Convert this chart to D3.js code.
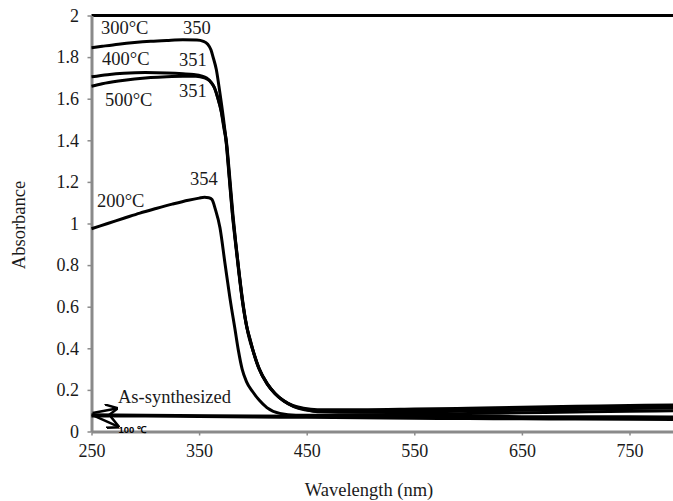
<!DOCTYPE html>
<html>
<head>
<meta charset="utf-8">
<script src="https://d3js.org/d3.v7.min.js"></script>
<style>
  body { margin: 0; background: #fff; }
</style>
</head>
<body>
<svg id="vis"></svg>

<script>
  // absorbance spectra, [wavelength nm, absorbance]
  var asSynth = [[250,0.075],[300,0.074],[350,0.072],[400,0.070],[450,0.068],[500,0.066],[550,0.064],
      [600,0.062],[650,0.061],[700,0.060],[800,0.058]];

  var c100 = [[250,0.080],[300,0.078],[400,0.075],[500,0.073],[600,0.072],[700,0.071],[800,0.070]];

  var c200 = [[250,0.975],[265,1.0],[280,1.025],[295,1.05],[310,1.072],[325,1.093],[340,1.112],[350,1.122],
      [355,1.126],[359,1.124],[362,1.115],[365,1.07],[369.4,0.98],[374,0.81],[378.7,0.64],[383.4,0.49],
      [386.5,0.39],[390,0.30],[394,0.24],[400,0.19],[406,0.15],[413,0.115],[425,0.087],[440,0.078],
      [460,0.078],[500,0.080],[550,0.083],[600,0.086],[650,0.090],[700,0.094],[750,0.097],[800,0.100]];

  var c300 = [[250,1.845],[260,1.852],[275,1.862],[290,1.870],[305,1.876],[320,1.880],[335,1.883],[348,1.882],
      [354,1.876],[358,1.862],[361,1.835],[363,1.80],[366,1.74],[369,1.64],[372.5,1.51],[375,1.40],[378,1.22],
      [381,1.04],[383.5,0.92],[387,0.76],[391,0.60],[394,0.51],[397,0.44],[400,0.39],[405,0.31],[413,0.23],
      [420,0.185],[428,0.15],[437,0.125],[447,0.112],[460,0.105],[500,0.105],[550,0.108],[600,0.112],
      [650,0.117],[700,0.121],[750,0.125],[800,0.128]];

  var c400 = [[250,1.705],[265,1.715],[280,1.722],[300,1.726],[320,1.724],[335,1.720],[345,1.716],[352,1.710],
      [357,1.70],[361,1.68],[364.5,1.65],[367,1.61],[371,1.53],[373,1.47],[375.5,1.39],[378.5,1.22],
      [381.5,1.04],[384,0.91],[387.5,0.75],[391,0.61],[394.5,0.50],[398,0.43],[401,0.375],[406,0.30],
      [414,0.225],[421,0.18],[429,0.145],[438,0.12],[448,0.105],[460,0.098],[500,0.097],[550,0.100],
      [600,0.104],[650,0.108],[700,0.112],[750,0.116],[800,0.120]];

  var c500 = [[250,1.66],[260,1.672],[275,1.685],[290,1.695],[305,1.702],[320,1.706],[335,1.708],[347,1.708],
      [355,1.70],[360,1.685],[364,1.655],[367,1.61],[370.5,1.54],[373,1.46],[375.5,1.38],[378,1.23],
      [381,1.05],[383.5,0.93],[387,0.77],[390.5,0.62],[394,0.51],[397.5,0.44],[400.5,0.38],[405.5,0.305],
      [413.5,0.228],[420.5,0.183],[428.5,0.148],[437.5,0.122],[447.5,0.108],[460,0.095],[500,0.092],
      [550,0.094],[600,0.098],[650,0.102],[700,0.106],[750,0.110],[800,0.114]];

  var series = [asSynth, c100, c200, c300, c400, c500];

  var xTicks = [250, 350, 450, 550, 650, 750];
  var yTicks = [0, 0.2, 0.4, 0.6, 0.8, 1, 1.2, 1.4, 1.6, 1.8, 2];

  // labels: [wavelength, absorbance, text]
  var labels = [[258.8,1.913,'300°C'], [335,1.913,'350'], [259.8,1.76,'400°C'], [331.3,1.755,'351'],
      [262.5,1.567,'500°C'], [331.3,1.606,'351'], [255,1.077,'200°C'], [341.5,1.183,'354'],
      [274.6,0.135,'As-synthesized']];

  // arrows from the curve start to the two low labels: [x1, y1, x2, y2]
  var arrows = [[251,0.089,273.4,0.111], [251,0.079,274.9,0.023]];

  var serif = 'Liberation Serif, Times New Roman, serif';
  var width = 673, height = 501;

  var svg = d3.select('#vis')
      .attr('width', width)
      .attr('height', height);

  var xScale = d3.scaleLinear()
      .domain([250, 800])
      .range([91.5, 683.3]);

  var yScale = d3.scaleLinear()
      .domain([0, 2])
      .range([431.5, 15.5]);

  var axisColor = '#8a8a8a';

  // top border
  svg.append('line')
      .attr('x1', xScale(250))
      .attr('x2', width)
      .attr('y1', yScale(2))
      .attr('y2', yScale(2))
      .attr('stroke', 'black')
      .attr('stroke-width', 3);

  var xAxis = svg.append('g')
      .attr('transform', 'translate(0,' + yScale(0) + ')')
      .call(d3.axisBottom(xScale).tickValues(xTicks).tickSize(4).tickSizeOuter(0).tickPadding(8.7));

  var yAxis = svg.append('g')
      .attr('transform', 'translate(' + xScale(250) + ',0)')
      .call(d3.axisLeft(yScale).tickValues(yTicks).tickSize(4).tickSizeOuter(0).tickPadding(8.5)
          .tickFormat(function(d) {return d3.format('~g')(d);}));

  [xAxis, yAxis].forEach(function(g) {
      g.attr('font-family', serif).attr('font-size', 18);
      g.select('.domain').attr('stroke', axisColor).attr('stroke-width', 3);
      g.selectAll('.tick line').attr('stroke', axisColor).attr('stroke-width', 1.5);
      g.selectAll('.tick text').attr('fill', '#1a1a1a');
  });

  var line = d3.line()
      .x(function(d) {return xScale(d[0]);})
      .y(function(d) {return yScale(d[1]);})
      .curve(d3.curveMonotoneX);

  svg.selectAll('path.spectrum')
      .data(series)
      .enter().append('path')
      .attr('class', 'spectrum')
      .attr('d', line)
      .attr('fill', 'none')
      .attr('stroke', 'black')
      .attr('stroke-width', 3)
      .attr('stroke-linejoin', 'round');

  svg.append('defs').append('marker')
      .attr('id', 'head')
      .attr('viewBox', '0 0 10 10')
      .attr('refX', 9)
      .attr('refY', 5)
      .attr('markerWidth', 5)
      .attr('markerHeight', 5)
      .attr('orient', 'auto')
      .append('path')
      .attr('d', 'M0,0 L10,5 L0,10')
      .attr('fill', 'none')
      .attr('stroke', 'black')
      .attr('stroke-width', 2);

  svg.selectAll('line.arrow')
      .data(arrows)
      .enter().append('line')
      .attr('class', 'arrow')
      .attr('x1', function(d) {return xScale(d[0]);})
      .attr('y1', function(d) {return yScale(d[1]);})
      .attr('x2', function(d) {return xScale(d[2]);})
      .attr('y2', function(d) {return yScale(d[3]);})
      .attr('stroke', 'black')
      .attr('stroke-width', 2.5)
      .attr('marker-end', 'url(#head)');

  svg.selectAll('text.label')
      .data(labels)
      .enter().append('text')
      .attr('class', 'label')
      .attr('x', function(d) {return xScale(d[0]);})
      .attr('y', function(d) {return yScale(d[1]);})
      .attr('fill', '#1a1a1a')
      .attr('font-family', serif)
      .attr('font-size', 18.5)
      .text(function(d) {return d[2];});

  svg.append('text')
      .attr('x', xScale(275))
      .attr('y', yScale(-0.008))
      .attr('fill', 'black')
      .attr('font-family', 'Liberation Sans, Arial, sans-serif')
      .attr('font-weight', 'bold')
      .attr('font-size', 9.5)
      .text('100 ℃');

  svg.append('text')
      .attr('transform', 'translate(25,225) rotate(-90)')
      .attr('text-anchor', 'middle')
      .attr('fill', '#1a1a1a')
      .attr('font-family', serif)
      .attr('font-size', 18.5)
      .text('Absorbance');

  svg.append('text')
      .attr('x', 369)
      .attr('y', 496)
      .attr('text-anchor', 'middle')
      .attr('fill', '#1a1a1a')
      .attr('font-family', serif)
      .attr('font-size', 18.5)
      .text('Wavelength (nm)');
</script>
</body>
</html>
